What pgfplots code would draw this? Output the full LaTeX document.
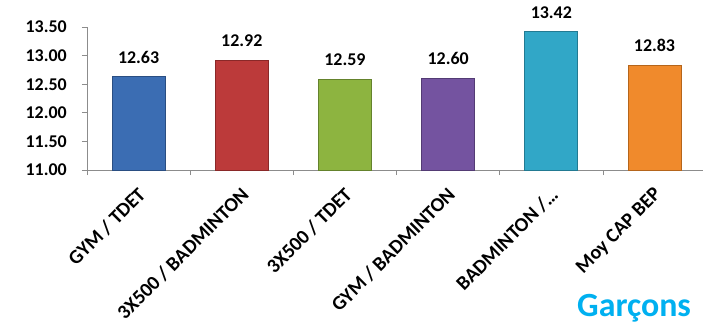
\documentclass[border=0pt]{standalone}
\usepackage{fontspec}
\setmainfont{Carlito}
\usepackage{pgfplots}
\pgfplotsset{compat=1.18}
\definecolor{cblue}{HTML}{3B6DB3}\definecolor{cblueD}{HTML}{2A4E82}
\definecolor{cred}{HTML}{BC3A3A}\definecolor{credD}{HTML}{8A2828}
\definecolor{cgreen}{HTML}{8DB440}\definecolor{cgreenD}{HTML}{64822C}
\definecolor{cpurple}{HTML}{7453A0}\definecolor{cpurpleD}{HTML}{533B74}
\definecolor{cteal}{HTML}{31A7C7}\definecolor{ctealD}{HTML}{227A92}
\definecolor{corange}{HTML}{F08A2C}\definecolor{corangeD}{HTML}{B5651B}
\definecolor{garcons}{HTML}{00B0F0}
\definecolor{axgray}{HTML}{8C8C8C}
\newcommand{\lbl}{\bfseries\fontsize{18}{20}\selectfont}
\newcommand{\xlbl}{\bfseries\fontsize{20}{22}\selectfont}
\begin{document}
\begin{tikzpicture}
\begin{axis}[
  at={(0bp,0bp)}, anchor=south west,
  scale only axis, width=616bp, height=143bp,
  xmin=-0.5, xmax=5.47, ymin=11, ymax=13.5,
  axis x line*=bottom, axis y line*=left,
  axis line style={axgray, line width=0.8pt},
  every tick/.style={axgray, line width=0.8pt},
  tick align=outside,
  ytick={11,11.5,12,12.5,13,13.5},
  major tick length=5bp,
  xtick={0,1,2,3,4,5},
  major x tick style={draw=none},
  minor xtick={-0.5,0.5,1.5,2.5,3.5,4.5},
  minor tick length=5bp,
  xticklabels={GYM / TDET, 3X500 / BADMINTON, 3X500 / TDET, GYM / BADMINTON, {BADMINTON /…}, Moy CAP BEP},
  xticklabel style={rotate=45, anchor=north east, inner sep=0pt, xshift=-9bp, yshift=-6.5bp, font=\xlbl},
  yticklabel style={inner sep=0pt, xshift=-15bp, font=\lbl},
  /pgf/number format/fixed, /pgf/number format/fixed zerofill,
  /pgf/number format/precision=2, /pgf/number format/assume math mode=true,
  ybar, bar width=0.514, bar shift=0pt,
  nodes near coords,
  every node near coord/.append style={font=\lbl, text=black, anchor=south, inner sep=0pt, yshift=13bp},
  clip=false,
]
\addplot[fill=cblue, draw=cblueD, line width=0.8pt] coordinates {(0,12.63)};
\addplot[fill=cred, draw=credD, line width=0.8pt] coordinates {(1,12.92)};
\addplot[fill=cgreen, draw=cgreenD, line width=0.8pt] coordinates {(2,12.59)};
\addplot[fill=cpurple, draw=cpurpleD, line width=0.8pt] coordinates {(3,12.60)};
\addplot[fill=cteal, draw=ctealD, line width=0.8pt] coordinates {(4,13.42)};
\addplot[fill=corange, draw=corangeD, line width=0.8pt] coordinates {(5,12.83)};
\end{axis}
\node[anchor=base west, inner sep=0pt, text=garcons, font=\bfseries\fontsize{34}{35}\selectfont] at (490bp,-146bp) {Garçons};
\pgfresetboundingbox
\useasboundingbox (-87bp,-153bp) rectangle (616bp,170bp);
\end{tikzpicture}
\end{document}
